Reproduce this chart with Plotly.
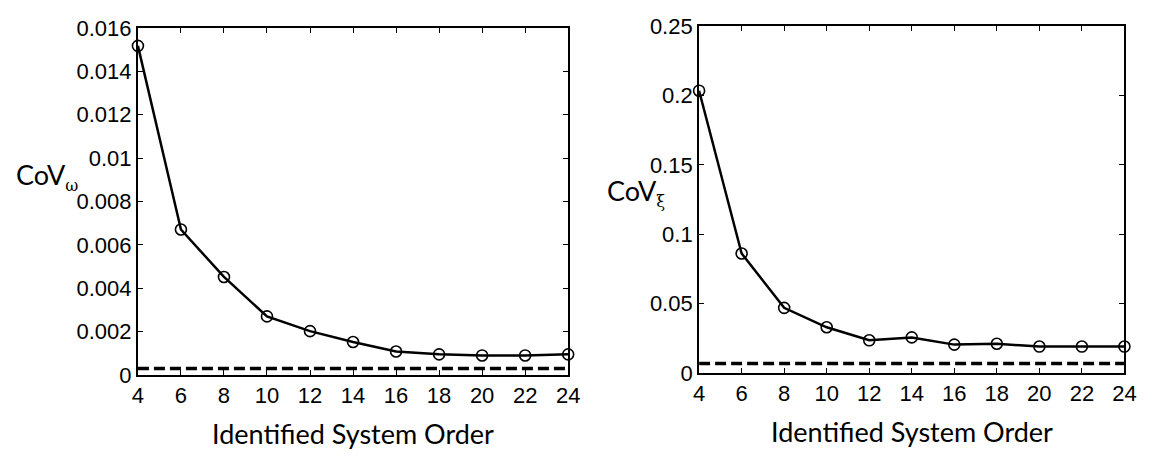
import plotly.graph_objects as go

# Identified system order (shared x values)
orders = [4, 6, 8, 10, 12, 14, 16, 18, 20, 22, 24]

# Coefficient of variation of natural frequency
cov_omega = [0.01518, 0.00671, 0.00452, 0.0027, 0.00202, 0.00152,
             0.00108, 0.00095, 0.0009, 0.0009, 0.00095]
omega_ref = 0.0003

# Coefficient of variation of damping ratio
cov_xi = [0.2035, 0.0862, 0.0470, 0.0330, 0.0236, 0.0257,
          0.0205, 0.0211, 0.0191, 0.0191, 0.0191]
xi_ref = 0.0068

W, H = 1163, 456
tick_font = dict(family="Arial", size=22, color="black")
title_font = dict(family="Lato", size=27, color="black")

fig = go.Figure()

def add_panel(xref, yref, values, ref):
    fig.add_trace(go.Scatter(
        x=orders, y=values, mode="lines+markers",
        line=dict(color="black", width=2.5),
        marker=dict(symbol="circle-open", size=11, color="black",
                    line=dict(width=1.6, color="black")),
        xaxis=xref, yaxis=yref, cliponaxis=False, showlegend=False))
    fig.add_trace(go.Scatter(
        x=[orders[0], orders[-1]], y=[ref, ref], mode="lines",
        line=dict(color="black", width=3.5, dash="11px,5px"),
        xaxis=xref, yaxis=yref, showlegend=False))

add_panel("x", "y", cov_omega, omega_ref)
add_panel("x2", "y2", cov_xi, xi_ref)

axis_common = dict(showline=True, linecolor="black", linewidth=2,
                   mirror="ticks", ticks="inside", ticklen=5,
                   tickcolor="black", tickwidth=1.2, showgrid=False,
                   zeroline=False, tickfont=tick_font)

fig.update_layout(
    width=W, height=H, margin=dict(l=0, r=0, t=0, b=0),
    paper_bgcolor="white", plot_bgcolor="white",
    xaxis=dict(domain=[134 / W, 571 / W], range=[4, 24], tickvals=orders,
               anchor="y", **axis_common),
    yaxis=dict(domain=[1 - 384 / H, 1 - 17 / H], range=[0, 0.016],
               tickvals=[0, 0.002, 0.004, 0.006, 0.008, 0.01, 0.012, 0.014, 0.016],
               ticktext=["0", "0.002", "0.004", "0.006", "0.008", "0.01",
                         "0.012", "0.014", "0.016"],
               anchor="x", **axis_common),
    xaxis2=dict(domain=[704 / W, 1136 / W], range=[4, 24], tickvals=orders,
                anchor="y2", **axis_common),
    yaxis2=dict(domain=[1 - 382 / H, 1 - 15 / H], range=[0, 0.25],
                tickvals=[0, 0.05, 0.1, 0.15, 0.2, 0.25],
                ticktext=["0", "0.05", "0.1", "0.15", "0.2", "0.25"],
                anchor="x2", **axis_common),
)

sub_style = "font-family:'DejaVu Serif'; font-size:16px"
annotations = [
    dict(text="Identified System Order", x=352 / W, y=1 - 446 / H,
         font=title_font),
    dict(text="Identified System Order", x=920 / W, y=1 - 444 / H,
         font=title_font),
    dict(text=f"CoV<sub><span style=\"{sub_style}\">ω</span></sub>",
         x=8 / W, y=1 - 174 / H, xanchor="left", font=title_font),
    dict(text=f"CoV<sub><span style=\"{sub_style}\">ξ</span></sub>",
         x=608 / W, y=1 - 191 / H, xanchor="left", font=title_font),
]
for a in annotations:
    a.setdefault("xanchor", "center")
    fig.add_annotation(xref="paper", yref="paper", showarrow=False,
                       yanchor="middle", **a)

fig.write_html("out.html")
